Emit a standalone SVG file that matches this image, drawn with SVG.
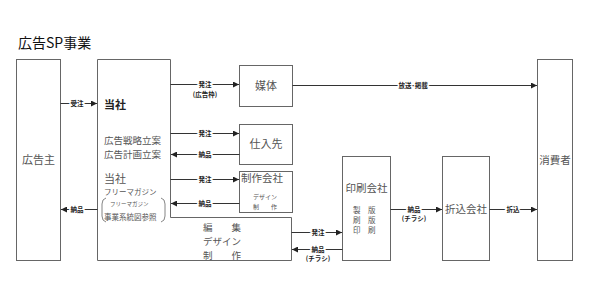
<svg xmlns="http://www.w3.org/2000/svg" width="600" height="300" viewBox="0 0 600 300">
<defs>
<marker id="ah" viewBox="0 0 6 6" refX="6" refY="3" markerWidth="6" markerHeight="6" markerUnits="userSpaceOnUse" orient="auto">
<path d="M0,0 L6,3 L0,6 Z" fill="#222"/>
</marker>
<style>
.box{fill:#fff;stroke:#666;stroke-width:1}
.t{font-family:"Noto Sans CJK JP","Noto Sans",sans-serif;fill:#555;font-size:11px}
.c{text-anchor:middle}
.lbl{font-family:"Noto Sans CJK JP","Noto Sans",sans-serif;font-size:6.5px;font-weight:bold;fill:#222;text-anchor:middle;stroke:#fff;stroke-width:3px;paint-order:stroke}
.ln{stroke:#333;stroke-width:1;fill:none;marker-end:url(#ah)}
</style>
</defs>
<rect width="600" height="300" fill="#fff"/>
<text x="18" y="48" style="font-family:'Noto Sans CJK JP',sans-serif;font-size:14px;fill:#111">広告SP事業</text>

<g id="koukokunushi">
<rect class="box" x="16.5" y="59.5" width="44" height="201"/>
<text class="t c" x="38.5" y="164">広告主</text>
</g>

<g id="tousha">
<path class="box" d="M97.5,59.5 H170.5 V217.5 H291.5 V260.5 H97.5 Z"/>
<text class="t" x="104" y="109" style="font-weight:bold;fill:#222">当社</text>
<text class="t" x="104" y="143.5" style="font-size:9.5px">広告戦略立案</text>
<text class="t" x="104" y="157.5" style="font-size:9.5px">広告計画立案</text>
<text class="t" x="104" y="183">当社</text>
<text class="t" x="104" y="195" style="font-size:7.5px">フリーマガジン</text>
<path d="M106,198 Q102,199 102,204 V216 Q102,221 106,222" stroke="#666" fill="none" stroke-width="0.8"/>
<path d="M161,198 Q165,199 165,204 V216 Q165,221 161,222" stroke="#666" fill="none" stroke-width="0.8"/>
<text class="t" x="110" y="206" style="font-size:5.5px">フリーマガジン</text>
<text class="t" x="104" y="220" style="font-size:7.5px">事業系統図参照</text>
<text class="t" x="203" y="230.5" style="font-size:9.5px">編　　集</text>
<text class="t" x="203" y="244.5" style="font-size:9.5px">デザイン</text>
<text class="t" x="203" y="258.5" style="font-size:9.5px">制　　作</text>
</g>

<g id="baitai">
<rect class="box" x="239.5" y="65.5" width="53" height="41"/>
<text class="t c" x="266" y="90">媒体</text>
</g>

<g id="shiiresaki">
<rect class="box" x="239.5" y="124.5" width="53" height="40"/>
<text class="t c" x="266" y="148">仕入先</text>
</g>

<g id="seisakukaisha">
<rect class="box" x="239.5" y="171.5" width="53" height="41"/>
<text class="t" x="241" y="182" style="font-size:10.5px">制作会社</text>
<text class="t" x="253" y="199" style="font-size:6px">デザイン</text>
<text class="t" x="253" y="209" style="font-size:6px">制　　作</text>
</g>

<g id="insatsukaisha">
<rect class="box" x="342.5" y="156.5" width="48" height="104"/>
<text class="t c" x="366.5" y="192" style="font-size:10.5px">印刷会社</text>
<text class="t" x="353" y="213" style="font-size:7.5px">製　版</text>
<text class="t" x="353" y="223" style="font-size:7.5px">刷　版</text>
<text class="t" x="353" y="233" style="font-size:7.5px">印　刷</text>
</g>

<g id="orikomikaisha">
<rect class="box" x="442.5" y="156.5" width="47" height="104"/>
<text class="t c" x="466" y="213" style="font-size:10.5px">折込会社</text>
</g>

<g id="shouhisha">
<rect class="box" x="537.5" y="59.5" width="35" height="201"/>
<text class="t c" x="555" y="164" style="font-size:10.5px">消費者</text>
</g>

<g id="connectors">
<line class="ln" x1="60.5" y1="103.5" x2="97" y2="103.5"/>
<text class="lbl" x="77" y="106">受注</text>
<line class="ln" x1="97.5" y1="209.5" x2="61" y2="209.5"/>
<text class="lbl" x="77" y="212">納品</text>

<line class="ln" x1="170.5" y1="84.5" x2="239" y2="84.5"/>
<text class="lbl" x="205" y="87">発注</text>
<text class="lbl" x="205" y="96.5">(広告枠)</text>
<line class="ln" x1="292.5" y1="85.5" x2="537" y2="85.5"/>
<text class="lbl" x="413" y="88">放送･掲載</text>

<line class="ln" x1="170.5" y1="133.5" x2="239" y2="133.5"/>
<text class="lbl" x="205" y="136">発注</text>
<line class="ln" x1="239.5" y1="154.5" x2="171" y2="154.5"/>
<text class="lbl" x="205" y="157">納品</text>

<line class="ln" x1="170.5" y1="179.5" x2="239" y2="179.5"/>
<text class="lbl" x="205" y="182">発注</text>
<line class="ln" x1="239.5" y1="203.5" x2="171" y2="203.5"/>
<text class="lbl" x="205" y="206">納品</text>

<line class="ln" x1="291.5" y1="232.5" x2="342" y2="232.5"/>
<text class="lbl" x="318" y="235">発注</text>
<line class="ln" x1="342.5" y1="249.5" x2="292" y2="249.5"/>
<text class="lbl" x="318" y="251.5">納品</text>
<text class="lbl" x="318" y="261">(チラシ)</text>

<line class="ln" x1="390.5" y1="209.5" x2="442" y2="209.5"/>
<text class="lbl" x="414" y="211.5">納品</text>
<text class="lbl" x="414" y="221">(チラシ)</text>
<line class="ln" x1="489.5" y1="209.5" x2="537" y2="209.5"/>
<text class="lbl" x="513" y="212">折込</text>
</g>
</svg>
